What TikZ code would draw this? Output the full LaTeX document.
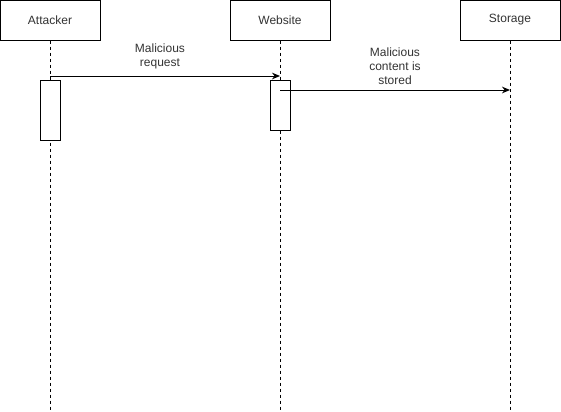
\documentclass[tikz,border=0pt]{standalone}
\usepackage{fontspec}
\setmainfont{Liberation Sans}
\usetikzlibrary{arrows.meta}
\begin{document}
\begin{tikzpicture}[x=0.75pt,y=-0.75pt,
  actor/.style={draw=black,line width=0.75pt,fill=white,minimum width=75pt,minimum height=30pt,inner sep=0pt,font=\fontsize{9pt}{10.5pt}\selectfont,text=black!80},
  act/.style={draw=black,line width=0.75pt,fill=white,minimum width=15pt,inner sep=0pt},
  life/.style={draw=black,line width=0.75pt,dash pattern=on 2.25pt off 2.25pt},
  msg/.style={draw=black,line width=0.75pt,-{Stealth[length=6pt,width=5pt]}},
  lbl/.style={align=center,font=\fontsize{9pt}{10.5pt}\selectfont,text=black!80,inner sep=0pt}]
\useasboundingbox (0,0) rectangle (561,411);
\node[actor] (A) at (50,20) {Attacker};
\node[actor] (W) at (280,20) {Website};
\node[actor] (S) at (510,20) {Storage};
\coordinate (Aend) at (50,410);
\coordinate (Wend) at (280,410);
\coordinate (Send) at (510,410);
\draw[life] (A.south) -- (Aend);
\draw[life] (W.south) -- (Wend);
\draw[life] (S.south) -- (Send);
\node[act,minimum height=45pt] (Aact) at (50,110) {};
\node[act,minimum height=37.5pt] (Wact) at (280,105) {};
\coordinate (m1s) at (50,76);
\coordinate (m1e) at (280,76);
\coordinate (m2s) at (280,90);
\coordinate (m2e) at (510,90);
\draw[msg] (m1s) -- (m1e);
\draw[msg] (m2s) -- (m2e);
\node[lbl] (l1) at (160,56) {Malicious\\request};
\node[lbl] (l2) at (395,66) {Malicious\\content is\\stored};
\end{tikzpicture}
\end{document}
